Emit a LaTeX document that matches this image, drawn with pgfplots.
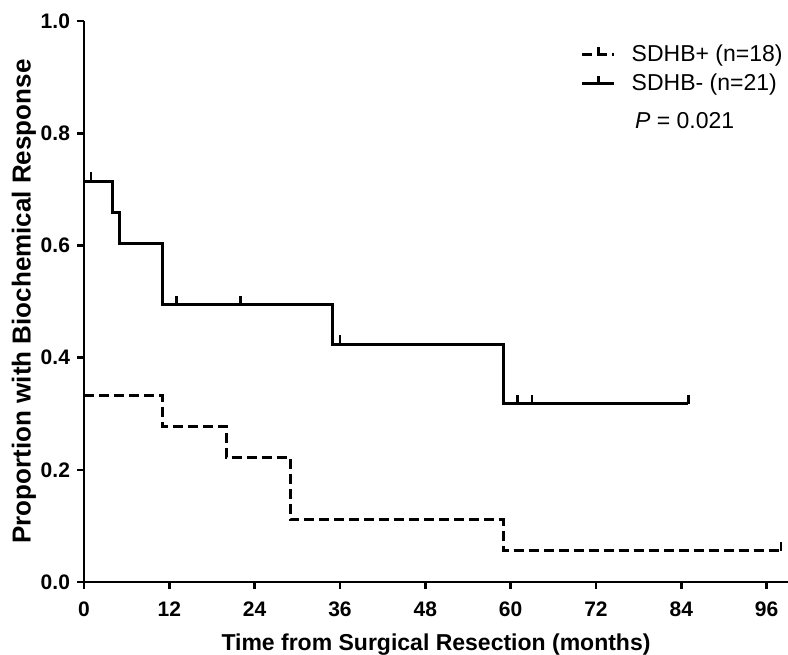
\documentclass[border=0pt]{standalone}
\usepackage{fontspec}
\setmainfont{Liberation Sans}
\usepackage{pgfplots}
\pgfplotsset{compat=1.18}
\pgfdeclareplotmark{cens}{\pgfpathmoveto{\pgfpoint{0pt}{0pt}}\pgfpathlineto{\pgfpoint{0pt}{4.5pt}}\pgfusepathqstroke}
\pgfplotsset{cenleg/.style={legend image code/.code={\draw[##1] (0pt,0pt) -- (16pt,0pt); \draw[line width=1.3pt,solid] (8pt,0pt) -- (8pt,4pt);}}}
\begin{document}
\begin{tikzpicture}
\begin{axis}[
  scale only axis,
  width=352pt, height=280.5pt,
  xmin=0, xmax=99, ymin=0, ymax=1,
  axis x line=bottom, axis y line=left,
  axis line style={-, line width=1.3pt},
  tick align=outside, major tick length=3.5pt,
  tick style={line width=1.3pt, black},
  xtick={0,12,24,36,48,60,72,84,96},
  ytick={0,0.2,0.4,0.6,0.8,1.0},
  yticklabel style={/pgf/number format/.cd, fixed, fixed zerofill, precision=1},
  xticklabel style={yshift=-2.75pt},
  /pgf/number format/assume math mode=true,
  ticklabel style={font=\fontsize{10.5}{12}\selectfont\bfseries},
  xlabel={Time from Surgical Resection (months)},
  ylabel={Proportion with Biochemical Response},
  xlabel style={font=\fontsize{11.5}{13}\selectfont\bfseries, yshift=-2pt},
  ylabel style={font=\fontsize{13}{15}\selectfont\bfseries, yshift=-4.5pt},
  legend style={draw=none, fill=none, at={(1,0.972)}, anchor=north east, xshift=2.5pt,
    font=\fontsize{11.5}{13}\selectfont, row sep=0.5pt,
    /tikz/every odd column/.append style={column sep=6pt}},
  legend cell align=left,
  clip=false,
]
\addplot[const plot, line width=1.5pt, dash pattern=on 5pt off 2.5pt, cenleg]
  coordinates {(0,0.333) (11,0.278) (20,0.222) (29,0.111) (59,0.056) (98,0.056)};
\addlegendentry{SDHB+ (n=18)}
\addplot[const plot, line width=1.5pt, cenleg]
  coordinates {(0,0.714) (4,0.659) (5,0.604) (11,0.494) (35,0.424) (59,0.318) (85,0.318)};
\addlegendentry{SDHB- (n=21)}
\addplot[only marks, mark=cens, mark options={line width=1.3pt, solid}, forget plot]
  coordinates {(98,0.056)};
\addplot[only marks, mark=cens, mark options={line width=1.3pt, solid}, forget plot]
  coordinates {(1,0.714) (13,0.494) (22,0.494) (36,0.424) (61,0.318) (63,0.318) (85,0.318)};
\node[anchor=west, font=\fontsize{11.5}{13}\selectfont] at (axis cs:76.5,0.822) {\textit{P} = 0.021};
\path (rel axis cs:0,1) ++(-42pt,10.5pt) coordinate (tl);
\path (rel axis cs:1,0) ++(0pt,-36pt) coordinate (br);
\end{axis}
\pgfresetboundingbox
\useasboundingbox (tl) rectangle (br);
\end{tikzpicture}
\end{document}
